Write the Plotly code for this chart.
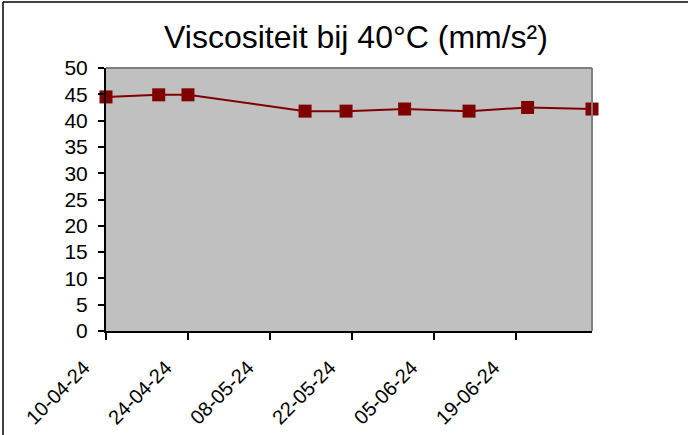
import plotly.graph_objects as go

# sample dates and viscosity readings
dates = ["2024-04-10", "2024-04-19", "2024-04-24", "2024-05-14", "2024-05-21",
         "2024-05-31", "2024-06-11", "2024-06-21", "2024-07-02"]
viscosity = [44.5, 44.9, 44.9, 41.8, 41.8, 42.2, 41.8, 42.5, 42.2]

W, H = 688, 435
L, R, T, B = 106, 96, 68, 104
pw, ph = W - L - R, H - T - B

fig = go.Figure()
fig.add_trace(go.Scatter(
    x=dates, y=viscosity, mode="lines+markers",
    line=dict(color="#800000", width=2),
    marker=dict(symbol="square", size=13, color="#800000",
                line=dict(color="#800000", width=0)),
    cliponaxis=False, showlegend=False,
))

font = "Liberation Sans, Arial, sans-serif"
fig.update_layout(
    width=W, height=H,
    margin=dict(l=L, r=R, t=T, b=B, autoexpand=False),
    paper_bgcolor="white",
    plot_bgcolor="#C0C0C0",
    font=dict(family=font, color="black", size=20),
    title=dict(text="Viscositeit bij 40°C (mm/s²)", x=356 / W, xanchor="center",
               y=1 - 37 / H, yanchor="middle", font=dict(size=32, family=font)),
    xaxis=dict(
        type="date", range=["2024-04-10", "2024-07-02"], automargin=False,
        tick0="2024-04-10", dtick=14 * 86400000, tickformat="%d-%m-%y",
        tickangle=-45, ticks="outside", ticklen=7, tickwidth=1.5, tickcolor="black",
        ticklabelstandoff=8, ticklabelshift=-22,
        showgrid=False, zeroline=False, showline=True, linecolor="black", linewidth=2,
        tickfont=dict(size=20),
    ),
    yaxis=dict(
        range=[0, 50], dtick=5, ticks="outside", ticklen=6, tickwidth=1.5, tickcolor="black",
        ticklabelstandoff=6, automargin=False,
        showgrid=False, zeroline=False, showline=True, linecolor="black", linewidth=2,
        tickfont=dict(size=21),
    ),
    shapes=[
        # gray frame on top and right of plot area
        dict(type="line", xref="paper", yref="paper", x0=0, x1=1, y0=1, y1=1,
             line=dict(color="#808080", width=2)),
        dict(type="line", xref="paper", yref="paper", x0=1, x1=1, y0=0, y1=1,
             line=dict(color="#808080", width=2)),
        # chart border (top and left)
        dict(type="line", xref="paper", yref="paper", x0=(3 - L) / pw, x1=(W - L) / pw,
             y0=(H - B - 2) / ph, y1=(H - B - 2) / ph, line=dict(color="black", width=1.5)),
        dict(type="line", xref="paper", yref="paper", x0=(3 - L) / pw, x1=(3 - L) / pw,
             y0=(H - B - 2) / ph, y1=(H - B - H) / ph, line=dict(color="black", width=1.5)),
    ],
)

fig.write_html("out.html", config={"displayModeBar": False},
               post_script="document.body.style.margin='0';")
